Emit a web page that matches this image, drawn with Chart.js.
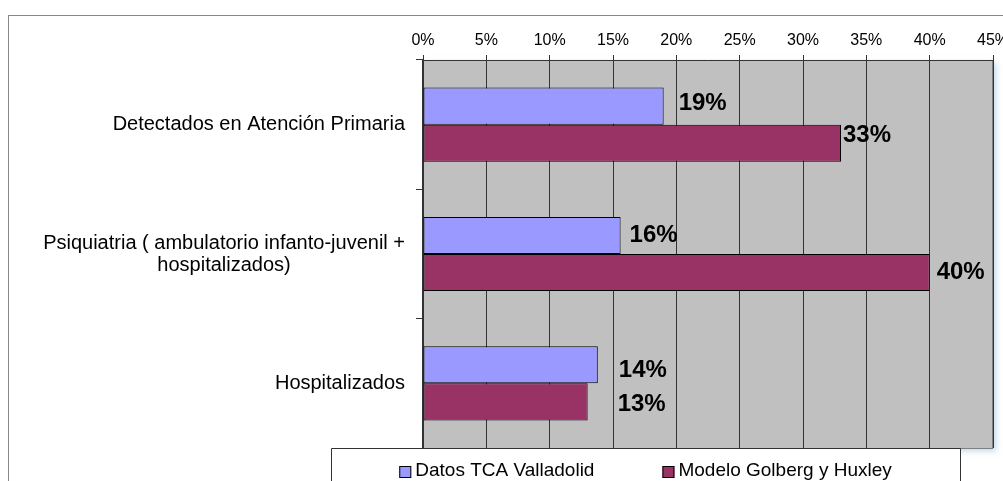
<!DOCTYPE html>
<html>
<head>
<meta charset="utf-8">
<script src="https://cdn.jsdelivr.net/npm/chart.js@4/dist/chart.umd.min.js"></script>
<style>
  html, body { margin: 0; padding: 0; background: #fff; overflow: hidden; width: 1003px; height: 481px; }
  #frame { position: absolute; left: 8px; top: 15px; width: 1200px; height: 600px; border: 1px solid #888; box-sizing: border-box; }
  #wrap { position: absolute; left: 0; top: 0; width: 1040px; height: 481px; }
</style>
</head>
<body>
<div id="frame"></div>
<div id="wrap"><canvas id="chart" width="1040" height="481"></canvas></div>
<script>
// ==== Data ====
const categories = [
  'Detectados en Atención Primaria',
  ['Psiquiatria ( ambulatorio infanto-juvenil +', 'hospitalizados)'],
  'Hospitalizados'
];
const seriesNames = ['Datos TCA Valladolid', 'Modelo Golberg y Huxley'];
const datosTCA = [19.0, 15.6, 13.8];
const modeloGH = [33.0, 40.0, 13.0];
const axisMin = 0;
const axisMax = 45;
const axisStep = 5;

// label nudges (px) relative to bar end / bar centre, as placed in the original
const labelNudge = [
  [[15, -3], [9, 0], [21, 6]],
  [[2, -8], [7, 0], [30, 2]]
];

const FONT = "'Liberation Sans', Arial, sans-serif";
Chart.defaults.font.family = FONT;
Chart.defaults.color = '#000';

// ==== Plugins ====
const plotBackground = {
  id: 'plotBackground',
  beforeDraw(chart) {
    const { ctx, chartArea: a } = chart;
    ctx.save();
    ctx.shadowColor = 'rgba(150, 190, 225, 0.6)';
    ctx.shadowBlur = 6;
    ctx.shadowOffsetX = 3;
    ctx.shadowOffsetY = 3;
    ctx.fillStyle = '#c0c0c0';
    ctx.fillRect(a.left, a.top, a.right - a.left, a.bottom - a.top);
    ctx.restore();
    ctx.save();
    ctx.strokeStyle = '#808080';
    ctx.lineWidth = 1;
    ctx.strokeRect(a.left + 0.5, a.top + 0.5, a.right - a.left - 1, a.bottom - a.top);
    ctx.restore();
  }
};

const categoryLabels = {
  id: 'categoryLabels',
  afterDraw(chart) {
    const { ctx, chartArea: a } = chart;
    const yScale = chart.scales.y;
    const right = a.left - 18;
    const lineH = 22;
    ctx.save();
    ctx.font = '20px ' + FONT;
    ctx.fillStyle = '#000';
    ctx.textBaseline = 'middle';
    categories.forEach((lab, i) => {
      const lines = Array.isArray(lab) ? lab : [lab];
      const maxW = Math.max(...lines.map(l => ctx.measureText(l).width));
      const cx = right - maxW / 2;
      const cy = yScale.getPixelForValue(i);
      const y0 = cy - (lines.length - 1) * lineH / 2;
      ctx.textAlign = 'center';
      lines.forEach((l, k) => ctx.fillText(l, cx, y0 + k * lineH));
    });
    ctx.restore();
  }
};

const valueLabels = {
  id: 'valueLabels',
  afterDatasetsDraw(chart) {
    const { ctx } = chart;
    ctx.save();
    ctx.font = 'bold 24px ' + FONT;
    ctx.fillStyle = '#000';
    ctx.textAlign = 'left';
    ctx.textBaseline = 'middle';
    chart.data.datasets.forEach((ds, d) => {
      chart.getDatasetMeta(d).data.forEach((bar, i) => {
        const n = labelNudge[d][i];
        ctx.fillText(Math.round(ds.data[i]) + '%', bar.x + n[0], bar.y + n[1]);
      });
    });
    ctx.restore();
  }
};

const boxLegend = {
  id: 'boxLegend',
  afterDraw(chart) {
    const { ctx } = chart;
    const box = { left: 331, top: 448, right: 960 };
    ctx.save();
    ctx.fillStyle = '#fff';
    ctx.fillRect(box.left, box.top, box.right - box.left, 100);
    ctx.strokeStyle = '#333';
    ctx.lineWidth = 1;
    ctx.beginPath();
    ctx.moveTo(box.left + 0.5, 500);
    ctx.lineTo(box.left + 0.5, box.top + 0.5);
    ctx.lineTo(box.right + 0.5, box.top + 0.5);
    ctx.lineTo(box.right + 0.5, 500);
    ctx.stroke();

    ctx.font = '19px ' + FONT;
    const sq = 12, gapSq = 4, gapItem = 68;
    const widths = chart.data.datasets.map(ds => sq + gapSq + ctx.measureText(ds.label).width);
    const total = widths.reduce((s, w) => s + w, 0) + gapItem * (widths.length - 1);
    let x = (box.left + box.right) / 2 - total / 2;
    const cy = 471;
    ctx.textBaseline = 'middle';
    ctx.textAlign = 'left';
    chart.data.datasets.forEach((ds, d) => {
      ctx.fillStyle = ds.backgroundColor;
      ctx.fillRect(x, cy - sq / 2 + 1, sq, sq);
      ctx.strokeStyle = '#000';
      ctx.strokeRect(x + 0.5, cy - sq / 2 + 1.5, sq - 1, sq - 1);
      ctx.fillStyle = '#000';
      ctx.fillText(ds.label, x + sq + gapSq, cy);
      x += widths[d] + gapItem;
    });
    ctx.restore();
  }
};

// ==== Chart ====
const ctx = document.getElementById('chart').getContext('2d');
const chart = new Chart(ctx, {
  type: 'bar',
  data: {
    labels: categories,
    datasets: [
      {
        label: seriesNames[0],
        data: datosTCA,
        backgroundColor: '#9999ff',
        borderColor: '#000',
        borderWidth: 1,
        borderSkipped: false
      },
      {
        label: seriesNames[1],
        data: modeloGH,
        backgroundColor: '#993366',
        borderColor: '#000',
        borderWidth: 1,
        borderSkipped: false
      }
    ]
  },
  options: {
    indexAxis: 'y',
    responsive: false,
    animation: false,
    devicePixelRatio: 1,
    layout: { padding: { top: 0, left: 0, right: 47, bottom: 33 } },
    datasets: { bar: { barPercentage: 1, categoryPercentage: 0.574 } },
    plugins: {
      legend: { display: false },
      tooltip: { enabled: false }
    },
    scales: {
      x: {
        position: 'top',
        min: axisMin,
        max: axisMax,
        ticks: {
          stepSize: axisStep,
          callback: v => v + '%',
          font: { size: 16 },
          color: '#000',
          padding: 5,
          maxRotation: 0
        },
        grid: { color: '#333', tickLength: 5, lineWidth: 1 },
        border: { display: true, color: '#333' },
        afterFit(scale) { scale.height = 60; }
      },
      y: {
        type: 'category',
        ticks: { display: false },
        grid: { offset: true, drawOnChartArea: false, color: '#333', tickLength: 7 },
        border: { display: true, color: '#333', width: 1.5 },
        afterFit(scale) { scale.width = 423; }
      }
    }
  },
  plugins: [plotBackground, valueLabels, categoryLabels, boxLegend]
});
</script>
</body>
</html>
